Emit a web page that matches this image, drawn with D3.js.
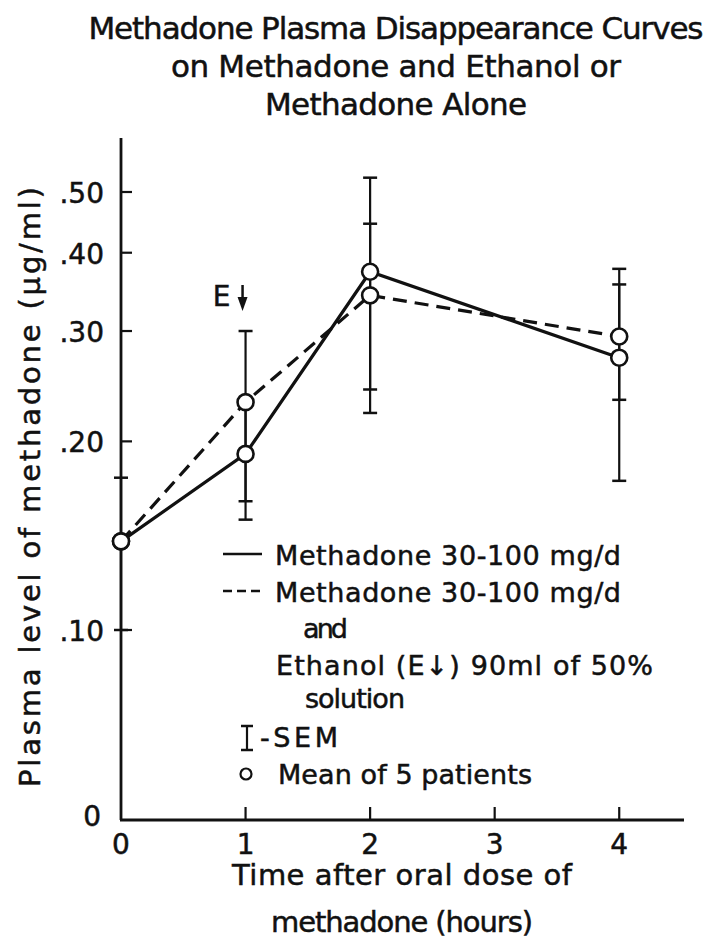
<!DOCTYPE html>
<html>
<head>
<meta charset="utf-8">
<script src="https://cdn.jsdelivr.net/npm/d3@7"></script>
<style>
  body { margin: 0; background: #fff; }
  svg { display: block; }
  text { font-family: "DejaVu Sans", sans-serif; fill: #111; stroke: #111; stroke-width: 0.5; }
</style>
</head>
<body>
<svg id="graph-svg" width="709" height="945"></svg>
<script>
// hours after the oral dose
const times = [0, 1, 2, 4]

// methadone alone (solid line)
const aloneMean = [0.1385, 0.191, 0.373, 0.272]
const aloneLow = [0.100, 0.150, 0.222, 0.173]
const aloneHigh = [0.175, 0.232, 0.527, 0.377]

// methadone + ethanol (dashed line)
const ethanolMean = [0.1385, 0.231, 0.342, 0.294]
const ethanolLow = [null, 0.1605, 0.242, 0.233]
const ethanolHigh = [null, 0.300, 0.445, 0.356]

const xTicks = [0, 1, 2, 3, 4]
const yTicks = [0.10, 0.20, 0.30, 0.40, 0.50]
const yTickLabels = ['.10', '.20', '.30', '.40', '.50']

const titleLines = [
    'Methadone Plasma Disappearance Curves',
    'on Methadone and Ethanol or',
    'Methadone Alone'
]
const xLabelLines = ['Time after oral dose of', 'methadone (hours)']
const yLabel = 'Plasma level of methadone (\u03bcg/ml)'

const svg = d3.select('#graph-svg')
const ink = '#111'

const xScale = d3.scaleLinear().domain([0, 4.52]).range([121, 684])
const yScale = d3.scaleLog().domain([0.1, 0.5]).range([630, 192])
const zeroY = 820          // broken axis: the "0" sits at the bottom
const topValue = 0.61

const series = [
    { name: 'alone', mean: aloneMean, low: aloneLow, high: aloneHigh, dash: null },
    { name: 'ethanol', mean: ethanolMean, low: ethanolLow, high: ethanolHigh, dash: '14,8' }
]

// title
svg.selectAll('text.title')
    .data(titleLines)
    .join('text')
    .attr('class', 'title')
    .attr('x', 396)
    .attr('y', (d, i) => 39 + i * 38)
    .attr('text-anchor', 'middle')
    .attr('font-size', 31)
    .attr('textLength', (d, i) => [615, 450, 262][i])
    .text(d => d)

// axes lines
svg.append('line')
    .attr('x1', xScale(0)).attr('x2', xScale(0))
    .attr('y1', zeroY).attr('y2', yScale(topValue))
    .attr('stroke', ink).attr('stroke-width', 2.8)
svg.append('line')
    .attr('x1', xScale(0) - 1).attr('x2', xScale(4.52))
    .attr('y1', zeroY).attr('y2', zeroY)
    .attr('stroke', ink).attr('stroke-width', 2.8)

// y ticks point inward
svg.selectAll('line.ytick')
    .data(yTicks)
    .join('line')
    .attr('class', 'ytick')
    .attr('x1', xScale(0)).attr('x2', xScale(0) + 11)
    .attr('y1', d => yScale(d)).attr('y2', d => yScale(d))
    .attr('stroke', ink).attr('stroke-width', 2.2)

svg.selectAll('text.ylab')
    .data(yTicks)
    .join('text')
    .attr('class', 'ylab')
    .attr('x', 104)
    .attr('y', d => yScale(d) + 11)
    .attr('text-anchor', 'end')
    .attr('font-size', 28)
    .text((d, i) => yTickLabels[i])

svg.append('text')
    .attr('x', 101).attr('y', zeroY + 6)
    .attr('text-anchor', 'end')
    .attr('font-size', 28)
    .text('0')

// x ticks point up
svg.selectAll('line.xtick')
    .data(xTicks.filter(d => d > 0))
    .join('line')
    .attr('class', 'xtick')
    .attr('x1', d => xScale(d)).attr('x2', d => xScale(d))
    .attr('y1', zeroY).attr('y2', zeroY - 13)
    .attr('stroke', ink).attr('stroke-width', 2.2)

svg.selectAll('text.xlab')
    .data(xTicks)
    .join('text')
    .attr('class', 'xlab')
    .attr('x', d => xScale(d))
    .attr('y', 854)
    .attr('text-anchor', 'middle')
    .attr('font-size', 28)
    .text(d => d)

// axis titles
svg.selectAll('text.xtitle')
    .data(xLabelLines)
    .join('text')
    .attr('class', 'xtitle')
    .attr('x', 402)
    .attr('y', (d, i) => 885 + i * 47)
    .attr('text-anchor', 'middle')
    .attr('font-size', 29)
    .attr('textLength', (d, i) => [340, 262][i])
    .text(d => d)

svg.append('text')
    .attr('transform', 'translate(40,487) rotate(-90)')
    .attr('text-anchor', 'middle')
    .attr('font-size', 29)
    .attr('textLength', 600)
    .text(yLabel)

// error bars (SEM)
const bars = []
series.forEach(s => times.forEach((t, i) => {
    if (s.low[i] != null) bars.push({ t: t, low: s.low[i], high: s.high[i] })
}))

const barG = svg.append('g')
barG.selectAll('line.bar')
    .data(bars)
    .join('line')
    .attr('class', 'bar')
    .attr('x1', d => xScale(d.t)).attr('x2', d => xScale(d.t))
    .attr('y1', d => yScale(d.low)).attr('y2', d => yScale(d.high))
    .attr('stroke', ink).attr('stroke-width', 2.2)

const caps = bars.flatMap(d => [{ t: d.t, v: d.low }, { t: d.t, v: d.high }])
barG.selectAll('line.cap')
    .data(caps)
    .join('line')
    .attr('class', 'cap')
    .attr('x1', d => xScale(d.t) - 7).attr('x2', d => xScale(d.t) + 7)
    .attr('y1', d => yScale(d.v)).attr('y2', d => yScale(d.v))
    .attr('stroke', ink).attr('stroke-width', 2.5)

// curves
const line = d3.line()
    .x((d, i) => xScale(times[i]))
    .y(d => yScale(d))

svg.selectAll('path.curve')
    .data(series)
    .join('path')
    .attr('class', 'curve')
    .attr('d', d => line(d.mean))
    .attr('fill', 'none')
    .attr('stroke', ink)
    .attr('stroke-width', 3.2)
    .attr('stroke-dasharray', d => d.dash)

// mean points
const points = series.flatMap(s => s.mean.map((v, i) => ({ t: times[i], v: v })))
svg.selectAll('circle.point')
    .data(points)
    .join('circle')
    .attr('class', 'point')
    .attr('cx', d => xScale(d.t))
    .attr('cy', d => yScale(d.v))
    .attr('r', 8)
    .attr('fill', '#fff')
    .attr('stroke', ink)
    .attr('stroke-width', 2.6)

// ethanol given at 1 h
const eX = xScale(1) - 3
svg.append('text')
    .attr('x', eX - 12).attr('y', 306)
    .attr('text-anchor', 'end')
    .attr('font-size', 28)
    .text('E')
svg.append('line')
    .attr('x1', eX).attr('x2', eX)
    .attr('y1', 285).attr('y2', 300)
    .attr('stroke', ink).attr('stroke-width', 2.5)
svg.append('path')
    .attr('d', `M${eX - 5},297 L${eX + 5},297 L${eX},311 Z`)
    .attr('fill', ink)

// legend
const legend = svg.append('g')
legend.append('line')
    .attr('x1', 223).attr('x2', 262).attr('y1', 554).attr('y2', 554)
    .attr('stroke', ink).attr('stroke-width', 2.5)
legend.append('line')
    .attr('x1', 223).attr('x2', 262).attr('y1', 591).attr('y2', 591)
    .attr('stroke', ink).attr('stroke-width', 2.5)
    .attr('stroke-dasharray', '9,5')

const legendRows = [
    { x: 275, y: 565, w: 346, text: 'Methadone 30-100 mg/d' },
    { x: 275, y: 602, w: 346, text: 'Methadone 30-100 mg/d' },
    { x: 303, y: 638, w: 45, text: 'and' },
    { x: 276, y: 675, w: 377, text: 'Ethanol (E\u2193) 90ml of 50%' },
    { x: 305, y: 708, w: 100, text: 'solution' },
    { x: 260, y: 747, w: 78, text: '-SEM' },
    { x: 278, y: 784, w: 254, text: 'Mean of 5 patients' }
]
legend.selectAll('text')
    .data(legendRows)
    .join('text')
    .attr('x', d => d.x).attr('y', d => d.y)
    .attr('font-size', 27)
    .attr('textLength', d => d.w)
    .text(d => d.text)

// SEM symbol
legend.append('line')
    .attr('x1', 247).attr('x2', 247).attr('y1', 726).attr('y2', 750)
    .attr('stroke', ink).attr('stroke-width', 2.2)
legend.selectAll('line.semcap')
    .data([726, 750])
    .join('line')
    .attr('class', 'semcap')
    .attr('x1', 241).attr('x2', 253)
    .attr('y1', d => d).attr('y2', d => d)
    .attr('stroke', ink).attr('stroke-width', 2.5)

// mean symbol
legend.append('circle')
    .attr('cx', 246).attr('cy', 774).attr('r', 5.5)
    .attr('fill', '#fff').attr('stroke', ink).attr('stroke-width', 2.2)
</script>
</body>
</html>
